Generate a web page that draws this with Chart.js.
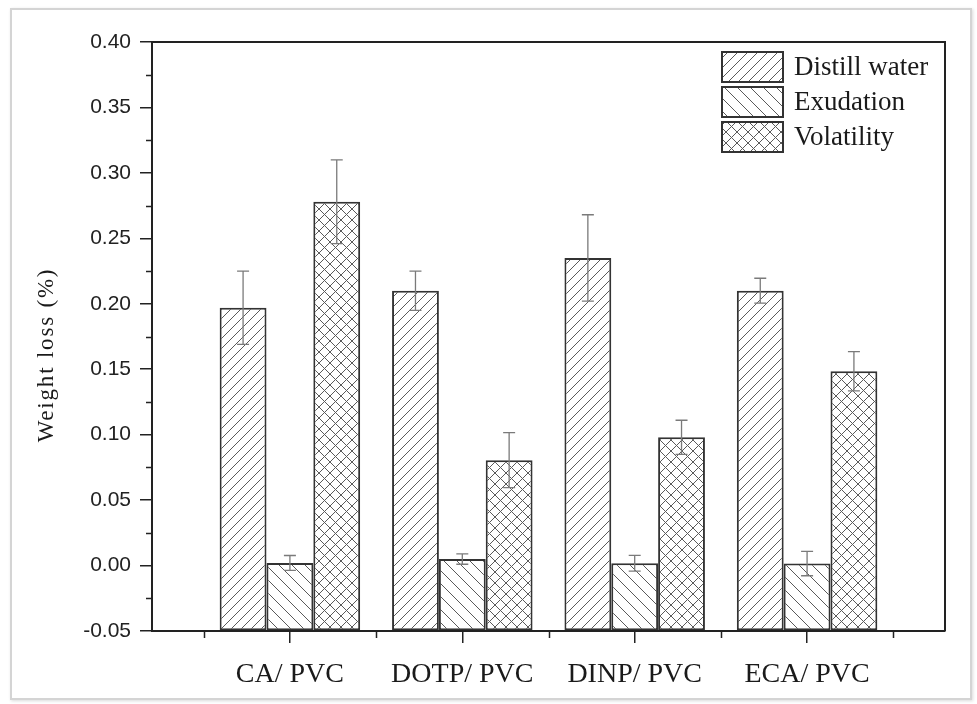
<!DOCTYPE html>
<html>
<head>
<meta charset="utf-8">
<script src="https://cdn.jsdelivr.net/npm/chart.js@4.4.1/dist/chart.umd.min.js"></script>
<style>
  html, body { margin: 0; padding: 0; background: #fff; }
  #wrap { position: relative; width: 977px; height: 704px; overflow: hidden; }
  #frame {
    position: absolute; left: 10px; top: 8px; width: 958px; height: 688px;
    border: 2px solid #d4d4d4; box-shadow: 1px 1px 3px rgba(0,0,0,0.15);
  }
  #weightChart { position: absolute; left: 0; top: 0; }
</style>
</head>
<body>
<div id="wrap">
  <div id="frame"></div>
  <canvas id="weightChart" width="977" height="704"></canvas>
</div>
<script>
const categories = ["CA/ PVC", "DOTP/ PVC", "DINP/ PVC", "ECA/ PVC"];
const seriesNames = ["Distill water", "Exudation", "Volatility"];
const yTitle = "Weight loss (%)";

const distillWater = [0.197, 0.210, 0.235, 0.210];
const distillWaterErr = [0.028, 0.015, 0.033, 0.0095];
const exudation = [0.002, 0.005, 0.0018, 0.0015];
const exudationErr = [0.0057, 0.004, 0.006, 0.0093];
const volatility = [0.278, 0.0805, 0.098, 0.1485];
const volatilityErr = [0.032, 0.021, 0.013, 0.015];

const yMin = -0.05;
const yMax = 0.40;
const yStep = 0.05;

// hatch fills: "/" , "\" and cross
const makeHatch = (size, kind) => {
  const c = document.createElement("canvas");
  c.width = size;
  c.height = size;
  const g = c.getContext("2d");
  g.fillStyle = "#fff";
  g.fillRect(0, 0, size, size);
  g.strokeStyle = "#5a5a5a";
  g.lineWidth = 1;
  g.beginPath();
  if (kind === "/" || kind === "x") {
    g.moveTo(0, size); g.lineTo(size, 0);
    g.moveTo(-1, 1); g.lineTo(1, -1);
    g.moveTo(size - 1, size + 1); g.lineTo(size + 1, size - 1);
  }
  if (kind === "\\" || kind === "x") {
    g.moveTo(0, 0); g.lineTo(size, size);
    g.moveTo(size - 1, -1); g.lineTo(size + 1, 1);
    g.moveTo(-1, size - 1); g.lineTo(1, size + 1);
  }
  g.stroke();
  return g.createPattern(c, "repeat");
};

const fills = [makeHatch(10, "/"), makeHatch(13, "\\"), makeHatch(11, "x")];
const values = [distillWater, exudation, volatility];
const errors = [distillWaterErr, exudationErr, volatilityErr];

const toPoints = (arr) => arr.map((v, i) => ({ x: i, y: v }));

// error bars, frame, minor ticks, axis title and the legend box
const extras = {
  id: "extras",
  afterDatasetsDraw(chart) {
    const ctx = chart.ctx;
    const y = chart.scales.y;
    ctx.save();
    ctx.strokeStyle = "#7a7a7a";
    ctx.lineWidth = 1.3;
    chart.data.datasets.forEach((ds, di) => {
      const meta = chart.getDatasetMeta(di);
      meta.data.forEach((bar, j) => {
        const v = values[di][j];
        const e = errors[di][j];
        const top = y.getPixelForValue(v + e);
        const bot = y.getPixelForValue(v - e);
        ctx.beginPath();
        ctx.moveTo(bar.x, top); ctx.lineTo(bar.x, bot);
        ctx.moveTo(bar.x - 6, top); ctx.lineTo(bar.x + 6, top);
        ctx.moveTo(bar.x - 6, bot); ctx.lineTo(bar.x + 6, bot);
        ctx.stroke();
      });
    });
    ctx.restore();
  },
  afterDraw(chart) {
    const ctx = chart.ctx;
    const a = chart.chartArea;
    const x = chart.scales.x;
    const y = chart.scales.y;
    ctx.save();
    ctx.strokeStyle = "#222";
    ctx.lineWidth = 2;
    ctx.beginPath();
    ctx.moveTo(a.left, a.top); ctx.lineTo(a.right, a.top); ctx.lineTo(a.right, a.bottom);
    ctx.stroke();

    // minor ticks
    ctx.lineWidth = 1.5;
    ctx.beginPath();
    for (let v = yMin + yStep / 2; v < yMax; v += yStep) {
      const py = Math.round(y.getPixelForValue(v)) + 0.5;
      ctx.moveTo(a.left - 6, py); ctx.lineTo(a.left, py);
    }
    for (let i = -0.5; i < categories.length; i += 1) {
      const px = Math.round(x.getPixelForValue(i)) + 0.5;
      ctx.moveTo(px, a.bottom); ctx.lineTo(px, a.bottom + 7);
    }
    ctx.stroke();

    // y title, a little spaced out
    ctx.save();
    ctx.translate(47, 355);
    ctx.rotate(-Math.PI / 2);
    ctx.font = "23px 'Liberation Serif'";
    ctx.letterSpacing = "1.8px";
    ctx.fillStyle = "#1a1a1a";
    ctx.textAlign = "center";
    ctx.textBaseline = "middle";
    ctx.fillText(yTitle, 0, 0);
    ctx.restore();

    // legend
    const boxL = 722, boxW = 61, boxH = 30;
    const boxTops = [52, 87, 122];
    ctx.font = "27px 'Liberation Serif'";
    ctx.textBaseline = "middle";
    ctx.textAlign = "left";
    chart.data.datasets.forEach((ds, i) => {
      ctx.fillStyle = ds.backgroundColor;
      ctx.fillRect(boxL, boxTops[i], boxW, boxH);
      ctx.strokeStyle = "#333";
      ctx.lineWidth = 2;
      ctx.strokeRect(boxL, boxTops[i], boxW, boxH);
      ctx.fillStyle = "#1a1a1a";
      ctx.fillText(ds.label, boxL + boxW + 11, boxTops[i] + boxH / 2 + 1);
    });
    ctx.restore();
  },
};

const chart = new Chart(document.getElementById("weightChart").getContext("2d"), {
  type: "bar",
  data: {
    datasets: seriesNames.map((name, i) => ({
      label: name,
      data: toPoints(values[i]),
      backgroundColor: fills[i],
      borderColor: "#333",
      borderWidth: 2,
      borderSkipped: false,
      base: yMin,
      categoryPercentage: 0.815,
      barPercentage: 1.0,
    })),
  },
  options: {
    responsive: false,
    animation: false,
    devicePixelRatio: 1,
    layout: { padding: { left: 0, top: 42, right: 32, bottom: 0 } },
    plugins: {
      legend: { display: false },
      tooltip: { enabled: false },
    },
    scales: {
      x: {
        type: "linear",
        offset: false,
        min: -0.8,
        max: categories.length - 0.2,
        afterBuildTicks: (scale) => {
          scale.ticks = categories.map((c, i) => ({ value: i }));
        },
        afterFit: (scale) => { scale.height = 73; },
        ticks: {
          callback: (v) => categories[v] ?? "",
          font: { family: "'Liberation Serif'", size: 28 },
          color: "#1a1a1a",
          padding: 15,
          maxRotation: 0,
          autoSkip: false,
        },
        grid: { offset: false, drawOnChartArea: false, drawTicks: true, tickLength: 12, color: "#222", lineWidth: 1.5 },
        border: { display: true, color: "#222", width: 2 },
      },
      y: {
        min: yMin,
        max: yMax,
        afterFit: (scale) => { scale.width = 152; },
        ticks: {
          stepSize: yStep,
          callback: (v) => v.toFixed(2),
          font: { family: "'Liberation Sans'", size: 21 },
          color: "#222",
          padding: 9,
        },
        grid: { drawOnChartArea: false, drawTicks: true, tickLength: 12, color: "#222", lineWidth: 1.5 },
        border: { display: true, color: "#222", width: 2 },
      },
    },
  },
  plugins: [extras],
});
</script>
</body>
</html>
